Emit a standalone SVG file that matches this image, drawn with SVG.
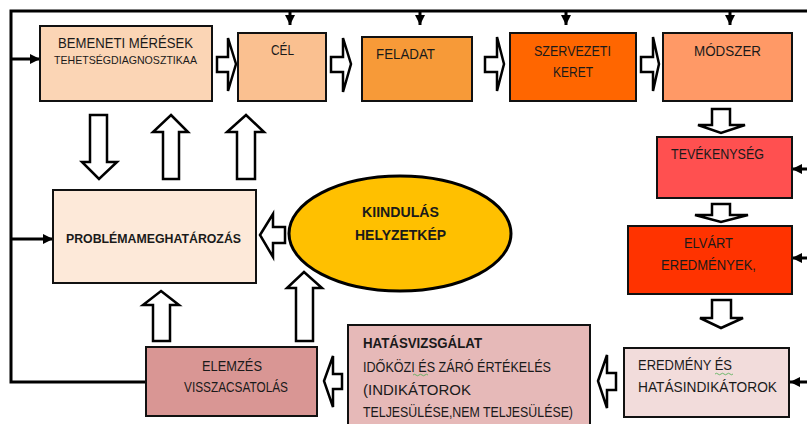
<svg xmlns="http://www.w3.org/2000/svg" width="807" height="424" viewBox="0 0 807 424">
<style>
.box{stroke:#111;stroke-width:2}
.t{font-family:"Liberation Sans",Arial,sans-serif;fill:#1a1a1a;font-size:14px}
.b{font-weight:bold}
.ln{fill:none;stroke:#000;stroke-width:3}
.ba{fill:#fff;stroke:#000;stroke-width:2.5;stroke-linejoin:miter}
.sq{fill:none;stroke:#4caf50;stroke-width:0.8}
</style>
<defs>
<marker id="ah" viewBox="0 0 10 10" refX="10" refY="5" markerWidth="10" markerHeight="10" markerUnits="userSpaceOnUse" orient="auto">
<path d="M0,0 L10,5 L0,10 Z" fill="#000"/>
</marker>
</defs>
<rect width="807" height="424" fill="#fff"/>

<g id="connectors">
<path class="ln" d="M807,11 H11 V382 H146"/>
<line class="ln" x1="290" y1="11" x2="290" y2="25" marker-end="url(#ah)"/>
<line class="ln" x1="420" y1="11" x2="420" y2="25" marker-end="url(#ah)"/>
<line class="ln" x1="566" y1="11" x2="566" y2="25" marker-end="url(#ah)"/>
<line class="ln" x1="730" y1="11" x2="730" y2="25" marker-end="url(#ah)"/>
<line class="ln" x1="11" y1="59" x2="40" y2="59" marker-end="url(#ah)"/>
<line class="ln" x1="11" y1="239" x2="53" y2="239" marker-end="url(#ah)"/>
<line class="ln" x1="807" y1="169" x2="792" y2="169" marker-end="url(#ah)"/>
<line class="ln" x1="807" y1="258" x2="792" y2="258" marker-end="url(#ah)"/>
<line class="ln" x1="807" y1="382" x2="790" y2="382" marker-end="url(#ah)"/>
<polygon class="ba" points="217,57 228,57 228,38 236,64 228,91 228,72 217,72"/>
<polygon class="ba" points="331,57 343,57 343,38 351,64 343,92 343,72 331,72"/>
<polygon class="ba" points="485,57 497,57 497,37 504,64 497,91 497,72 485,72"/>
<polygon class="ba" points="641,57 653,57 653,37 659,64 653,91 653,72 641,72"/>
<polygon class="ba" points="712,109 730,109 730,125 745,125 721,133 698,125 712,125"/>
<polygon class="ba" points="712,204 730,204 730,215 748,215 721,222 695,215 712,215"/>
<polygon class="ba" points="712,300 731,300 731,318 743,318 721,328 700,318 712,318"/>
<polygon class="ba" points="90,115 107,115 107,162 117,162 99,179 82,162 90,162"/>
<polygon class="ba" points="171,115 188,132 179,132 179,179 163,179 163,132 153,132"/>
<polygon class="ba" points="246,115 264,132 255,132 255,179 237,179 237,132 227,132"/>
<polygon class="ba" points="260,235 273,214 273,227 285,227 285,243 273,243 273,257"/>
<polygon class="ba" points="161,291 179,305 170,305 170,341 153,341 153,305 143,305"/>
<polygon class="ba" points="304,272 322,288 313,288 313,341 296,341 296,288 287,288"/>
<polygon class="ba" points="324,381 333,356 333,374 342,374 342,389 333,389 333,407"/>
<polygon class="ba" points="598,381 607,355 607,373 616,373 616,390 607,390 607,408"/>
</g>

<g id="bemeneti">
<rect class="box" x="40" y="26" width="172" height="75" fill="#FBD5B5"/>
<text class="t" x="58" y="48" textLength="135" lengthAdjust="spacingAndGlyphs">BEMENETI MÉRÉSEK</text>
<text class="t" x="54" y="64" textLength="143" lengthAdjust="spacingAndGlyphs" style="font-size:10.5px">TEHETSÉGDIAGNOSZTIKAA</text>
</g>
<g id="cel">
<rect class="box" x="238" y="33" width="88" height="68" fill="#FAC090"/>
<text class="t" x="271" y="55" textLength="23" lengthAdjust="spacingAndGlyphs">CÉL</text>
</g>
<g id="feladat">
<rect class="box" x="362" y="37" width="110" height="64" fill="#F79A38"/>
<text class="t" x="376" y="59" textLength="59" lengthAdjust="spacingAndGlyphs">FELADAT</text>
</g>
<g id="szervezeti">
<rect class="box" x="510" y="33" width="126" height="68" fill="#FF6600"/>
<text class="t" x="534" y="56" textLength="77" lengthAdjust="spacingAndGlyphs">SZERVEZETI</text>
<text class="t" x="553" y="77" textLength="40" lengthAdjust="spacingAndGlyphs">KERET</text>
</g>
<g id="modszer">
<rect class="box" x="663" y="33" width="129" height="68" fill="#FF9966"/>
<text class="t" x="694" y="56" textLength="67" lengthAdjust="spacingAndGlyphs">MÓDSZER</text>
</g>
<g id="tevekenyseg">
<rect class="box" x="657" y="137" width="135" height="61" fill="#FF5050"/>
<text class="t" x="671" y="159" textLength="93" lengthAdjust="spacingAndGlyphs">TEVÉKENYSÉG</text>
</g>
<g id="elvart">
<rect class="box" x="628" y="226" width="164" height="68" fill="#FF3300"/>
<text class="t" x="684" y="248" textLength="49" lengthAdjust="spacingAndGlyphs">ELVÁRT</text>
<text class="t" x="661" y="270" textLength="95" lengthAdjust="spacingAndGlyphs">EREDMÉNYEK,</text>
</g>
<g id="eredmeny">
<rect class="box" x="624" y="348" width="165" height="69" fill="#F2DCDB"/>
<text class="t" x="638" y="370" textLength="94" lengthAdjust="spacingAndGlyphs">EREDMÉNY ÉS</text>
<text class="t" x="638" y="392" textLength="139" lengthAdjust="spacingAndGlyphs">HATÁSINDIKÁTOROK</text>
<path class="sq" d="M715,374 q1.5,-1.5 3,0 t3,0 t3,0 t3,0 t3,0 t3,0"/>
</g>
<g id="hatasvizsgalat">
<rect class="box" x="348" y="325" width="242" height="104" fill="#E6B9B8"/>
<text class="t b" x="363" y="348" textLength="119" lengthAdjust="spacingAndGlyphs">HATÁSVIZSGÁLAT</text>
<text class="t" x="363" y="372" textLength="188" lengthAdjust="spacingAndGlyphs" style="font-size:14.5px">IDŐKÖZI ÉS ZÁRÓ ÉRTÉKELÉS</text>
<text class="t" x="363" y="395" textLength="108" lengthAdjust="spacingAndGlyphs" style="font-size:14.5px">(INDIKÁTOROK</text>
<text class="t" x="363" y="417" textLength="210" lengthAdjust="spacingAndGlyphs" style="font-size:14.5px">TELJESÜLÉSE,NEM TELJESÜLÉSE)</text>
<path class="sq" d="M413,375 q1.5,-1.5 3,0 t3,0 t3,0 t3,0 t3,0"/>
</g>
<g id="elemzes">
<rect class="box" x="146" y="347" width="171" height="69" fill="#D99694"/>
<text class="t" x="202" y="371" textLength="60" lengthAdjust="spacingAndGlyphs">ELEMZÉS</text>
<text class="t" x="184" y="392" textLength="104" lengthAdjust="spacingAndGlyphs">VISSZACSATOLÁS</text>
</g>
<g id="problema">
<rect class="box" x="53" y="190" width="203" height="93" fill="#FDE9D9"/>
<text class="t b" x="66" y="243" style="font-size:13px" textLength="175" lengthAdjust="spacingAndGlyphs">PROBLÉMAMEGHATÁROZÁS</text>
</g>
<g id="kiindulas">
<ellipse cx="400" cy="233.5" rx="111" ry="57.5" fill="#FFC000" stroke="#000" stroke-width="3"/>
<text class="t b" x="362" y="217" textLength="77" lengthAdjust="spacingAndGlyphs">KIINDULÁS</text>
<text class="t b" x="355" y="240" textLength="91" lengthAdjust="spacingAndGlyphs">HELYZETKÉP</text>
</g>
</svg>
